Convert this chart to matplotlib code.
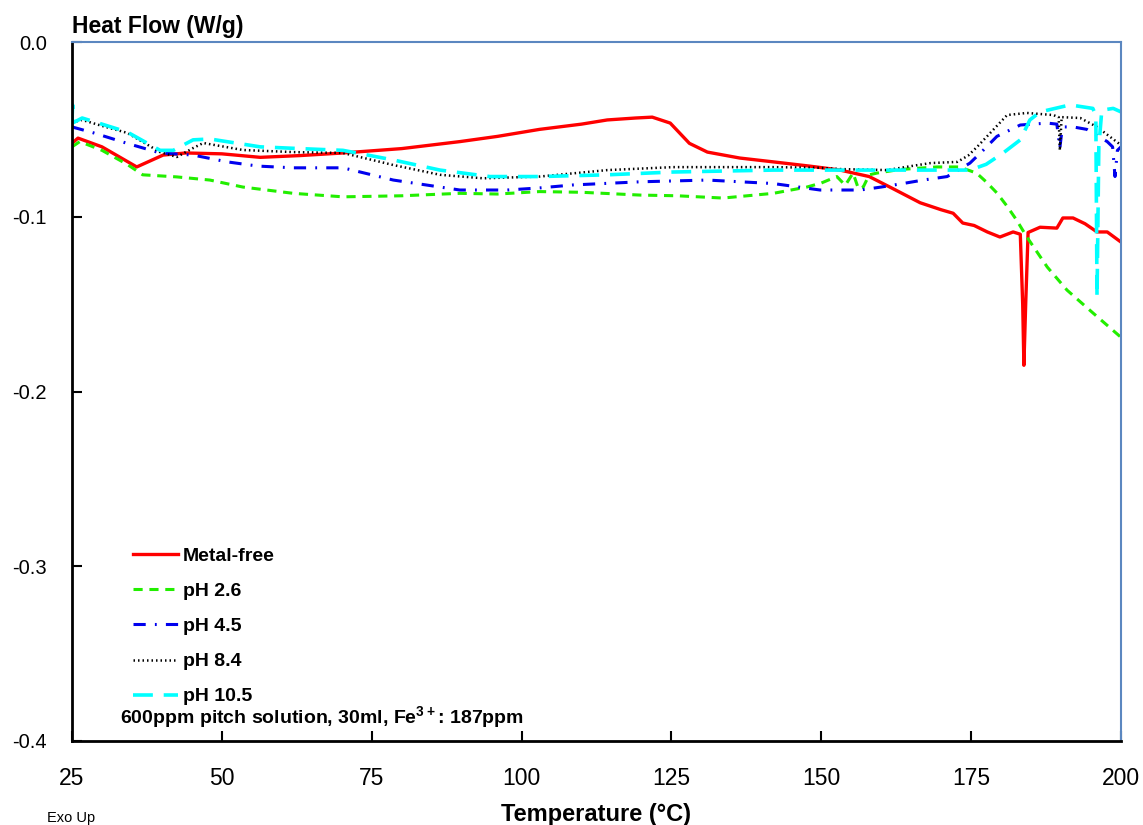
import matplotlib
matplotlib.use("Agg")
import matplotlib.pyplot as plt

plt.rcParams['font.family'] = ['Liberation Sans', 'DejaVu Sans']
plt.rcParams['mathtext.fontset'] = 'custom'
plt.rcParams['mathtext.rm'] = 'Liberation Sans'
plt.rcParams['mathtext.bf'] = 'Liberation Sans:bold'

# ---- data ----
mf_T = [25, 26, 30, 35.8, 40.2, 44, 50, 56.4, 63, 70.2, 80, 89.7, 96, 103, 110, 114.3, 119, 121.8,
        124.8, 128, 131, 136.4, 142, 148, 153, 158, 162, 166.5, 170, 172, 173.6, 175.5, 177.7,
        179.8, 182, 183.2, 183.6, 183.8, 184.1, 184.5, 186.5, 189.3, 190.3, 192, 194, 196, 197.7, 200]
mf_HF = [-0.058, -0.055, -0.060, -0.0715, -0.0647, -0.0635, -0.064, -0.066, -0.065, -0.0635, -0.061,
         -0.057, -0.054, -0.050, -0.047, -0.0446, -0.0435, -0.043, -0.0464, -0.058, -0.063, -0.0664,
         -0.0686, -0.071, -0.0732, -0.077, -0.084, -0.092, -0.096, -0.098, -0.1036, -0.105, -0.1087,
         -0.1116, -0.1087, -0.110, -0.150, -0.185, -0.150, -0.109, -0.106, -0.1065, -0.1007, -0.1007,
         -0.104, -0.1087, -0.1087, -0.1145]

p26_T = [25, 26.3, 30, 34.2, 36.8, 42.5, 48, 53.5, 61.9, 70.2, 80, 89.7, 96, 103, 110, 119.8,
         126, 133.6, 142, 147.6, 150, 152.6, 154, 155.3, 156.2, 157, 158, 159.3, 163, 169.3, 173,
         175.9, 177.5, 179.3, 181, 182.6, 184.3, 187.7, 191, 195.3, 200]
p26_HF = [-0.060, -0.057, -0.062, -0.070, -0.076, -0.0772, -0.079, -0.083, -0.0866, -0.0886, -0.088,
          -0.0866, -0.087, -0.0856, -0.086, -0.0876, -0.088, -0.0893, -0.0866, -0.083, -0.0807, -0.077,
          -0.082, -0.075, -0.084, -0.083, -0.076, -0.075, -0.073, -0.0715, -0.0715, -0.075, -0.080,
          -0.0864, -0.094, -0.102, -0.1116, -0.1288, -0.142, -0.155, -0.169]

p45_T = [25, 28.6, 34.2, 39.7, 45.2, 50.9, 56, 61.9, 70.2, 78.6, 86.4, 89.7, 97.6, 103, 108.6,
         119.8, 131, 142, 149.8, 153, 156.5, 160, 163.6, 167, 171, 174.8, 177, 179.3, 183.2, 187.7,
         189.3, 189.8, 190.1, 190.5, 192, 194.3, 197.7, 198.6, 199, 199.4, 200]
p45_HF = [-0.0486, -0.052, -0.058, -0.0635, -0.0647, -0.0686, -0.071, -0.072, -0.072, -0.079, -0.083,
          -0.0847, -0.0847, -0.0835, -0.0818, -0.080, -0.079, -0.081, -0.0847, -0.0847, -0.0847,
          -0.083, -0.081, -0.079, -0.077, -0.0693, -0.062, -0.054, -0.0475, -0.0464, -0.047, -0.0607,
          -0.052, -0.0486, -0.0486, -0.050, -0.057, -0.060, -0.077, -0.062, -0.060]

p84_T = [25, 26.7, 30, 34.2, 39.7, 42.5, 45.2, 46.9, 53.5, 61.9, 70.2, 78.6, 86.4, 93.6, 103, 114.3,
         125.3, 142, 149.8, 153, 161, 165, 168.2, 172.7, 174.5, 176, 178.2, 181, 184.3, 188.7, 189.6,
         189.8, 190.1, 193.2, 196, 200]
p84_HF = [-0.046, -0.0446, -0.048, -0.052, -0.063, -0.0658, -0.0607, -0.0578, -0.0618, -0.063, -0.0635,
          -0.0704, -0.076, -0.078, -0.077, -0.0733, -0.0716, -0.0716, -0.072, -0.0727, -0.0733, -0.071,
          -0.0693, -0.0686, -0.065, -0.060, -0.052, -0.0418, -0.0406, -0.0418, -0.043, -0.062, -0.043,
          -0.0435, -0.0486, -0.059]

p105_T = [25, 25.1, 25.3, 26.7, 30, 34.2, 39.7, 41.9, 45.2, 48, 56.4, 63, 70.2, 78.6, 86.4, 94.7,
          103, 114.3, 125.3, 142, 153, 166.5, 174.8, 177.5, 180.3, 183.2, 184.8, 186.5, 191.5, 195.3,
          195.8, 196.0, 196.3, 196.8, 198.7, 200]
p105_HF = [-0.045, -0.036, -0.046, -0.0435, -0.047, -0.0515, -0.062, -0.062, -0.056, -0.0555, -0.060,
           -0.061, -0.062, -0.0675, -0.0733, -0.077, -0.077, -0.076, -0.0744, -0.0733, -0.0733, -0.0733,
           -0.0733, -0.070, -0.0636, -0.056, -0.0446, -0.040, -0.036, -0.038, -0.042, -0.146, -0.060,
           -0.039, -0.038, -0.040]

labels = ['Metal-free', 'pH 2.6', 'pH 4.5', 'pH 8.4', 'pH 10.5']
x_ticks = [25, 50, 75, 100, 125, 150, 175, 200]
y_ticks = [0.0, -0.1, -0.2, -0.3, -0.4]
y_ticklabels = ['0.0', '-0.1', '-0.2', '-0.3', '-0.4']

# ---- figure ----
fig = plt.figure(figsize=(11.43, 8.25), dpi=100)
ax = fig.add_axes([72/1143, 1 - 741/825, (1121-72)/1143, (741-42)/825])

ax.plot(mf_T, mf_HF, color='#FF0000', lw=2.4, ls='-', label=labels[0])
ax.plot(p26_T, p26_HF, color='#22EE00', lw=2.2, ls=(0, (3, 2.2)), label=labels[1])
ax.plot(p45_T, p45_HF, color='#0000EE', lw=2.2, ls=(0, (4, 3, 0.6, 3)), label=labels[2])
ax.plot(p84_T, p84_HF, color='#000000', lw=1.8, ls=(0, (0.6, 1.2)), label=labels[3])
ax.plot(p105_T, p105_HF, color='#00FFFF', lw=2.6, ls=(0, (5.5, 3)), label=labels[4])

ax.set_xlim(25, 200)
ax.set_ylim(-0.4, 0.0)
ax.set_xticks(x_ticks)
ax.set_yticks(y_ticks)
ax.set_yticklabels(y_ticklabels)
ax.tick_params(axis='x', direction='in', length=7, width=1.5, pad=19, labelsize=16.5)
ax.tick_params(axis='y', direction='in', length=7, width=1.5, pad=18, labelsize=14.5)

for s in ['left', 'bottom']:
    ax.spines[s].set_color('black')
    ax.spines[s].set_linewidth(2)
for s in ['top', 'right']:
    ax.spines[s].set_color('#5B87C0')
    ax.spines[s].set_linewidth(1.5)

leg = ax.legend(loc='upper left', bbox_to_anchor=(0.058, 0.277), frameon=False,
                prop={'weight': 'bold', 'size': 14}, handlelength=2.3, handletextpad=0.26,
                labelspacing=0.9, borderaxespad=0, borderpad=0)

ax.text(0.0458, 0.034, r'600ppm pitch solution, 30ml, Fe$^{\mathbf{3+}}$: 187ppm',
        transform=ax.transAxes, fontsize=14, fontweight='bold', ha='left', va='center')

fig.text(72/1143, 1 - 27/825, 'Heat Flow (W/g)', fontsize=16.5, fontweight='bold',
         ha='left', va='center')
fig.text(596/1143, 1 - 815/825, 'Temperature (°C)', fontsize=17, fontweight='bold',
         ha='center', va='center')
fig.text(47/1143, 1 - 818/825, 'Exo Up', fontsize=10.5, ha='left', va='center')

fig.savefig('out.png', dpi=100)
